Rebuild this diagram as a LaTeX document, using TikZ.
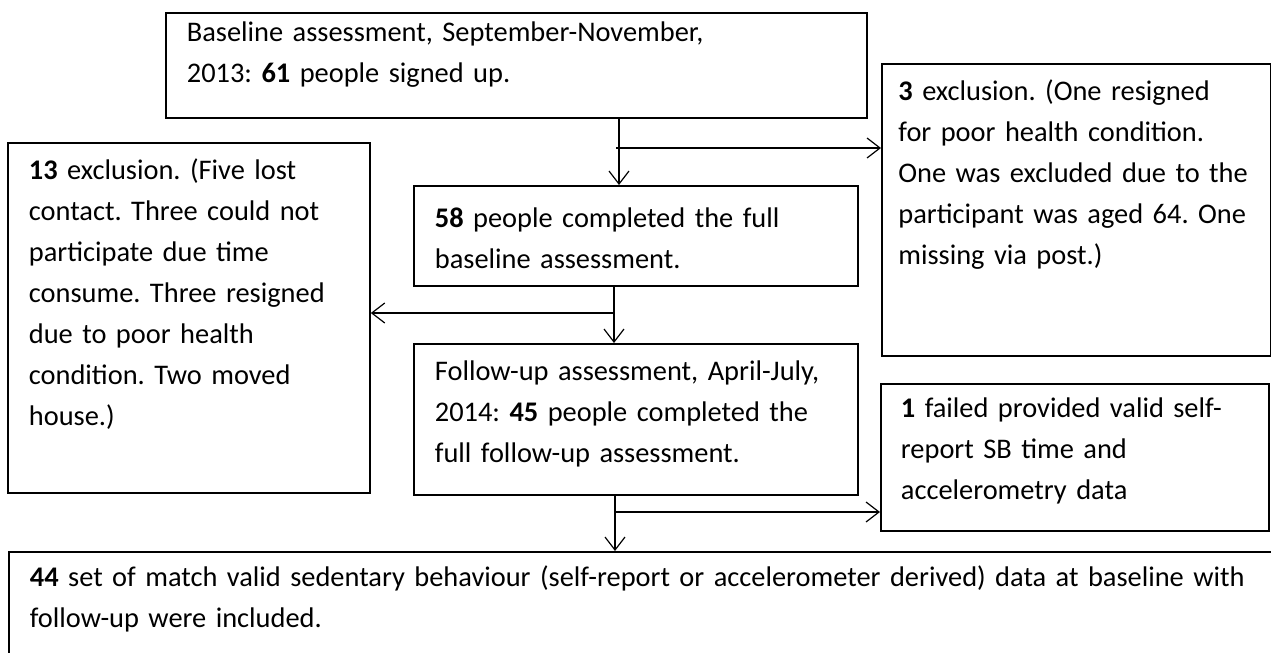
\documentclass[tikz,border=0pt]{standalone}
\usepackage{fontspec}
\setmainfont{Carlito}
\usepackage{tikz}
\usetikzlibrary{arrows.meta,positioning,calc}

\begin{document}
\frenchspacing
\begin{tikzpicture}[
    x=0.5pt, y=-0.5pt,
    every node/.style={font=\fontsize{14.2}{20.5}\selectfont},
    box/.style={rectangle, draw, line width=0.9pt, anchor=north west, align=left, inner xsep=10.5pt, inner ysep=0pt},
    arrow/.style={-{Straight Barb[length=6.5pt,width=10pt]}, line width=0.6pt}
]
\useasboundingbox (0,0) rectangle (1271,653);
\clip (0,0) rectangle (1271,653);

% Baseline
\node[box, text width=329.5pt, text height=14.5pt, text depth=38pt] (base) at (165,12)
    {Baseline assessment, September-November,\\ 2013: \textbf{61} people signed up.};
\node[box, inner xsep=8.25pt, text width=178pt, text height=18.5pt, text depth=127.5pt] (excl3) at (881,63)
    {\textbf{3} exclusion. (One resigned\\ for poor health condition.\\ One was excluded due to the\\ participant was aged 64. One\\ missing via post.)};
\node[box, text width=201pt, text height=21pt, text depth=29pt] (full58) at (413,185)
    {\textbf{58} people completed the full\\ baseline assessment.};

% Follow-up
\node[box, text width=160pt, text height=18.5pt, text depth=156.5pt] (excl13) at (7,142)
    {\textbf{13} exclusion. (Five lost\\ contact. Three could not\\ participate due time\\ consume. Three resigned\\ due to poor health\\ condition. Two moved\\ house.)};
\node[box, text width=201pt, text height=18.5pt, text depth=57pt] (followup) at (413,343)
    {Follow-up assessment, April-July,\\ 2014: \textbf{45} people completed the\\ full follow-up assessment.};
\node[box, inner xsep=10pt, text width=174pt, text height=17pt, text depth=56.5pt] (fail1) at (880,383)
    {\textbf{1} failed provided valid self-\\ report SB time and\\ accelerometry data};

% Final sample
\node[box, text width=650pt, text height=17.5pt, text depth=70pt] (final44) at (8,551)
    {\textbf{44} set of match valid sedentary behaviour (self-report or accelerometer derived) data at baseline with\\ follow-up were included.};

% Junctions
\coordinate (j1) at (619,148);
\coordinate (j2) at (614,313);
\coordinate (j3) at (615,512);

% Arrows
\draw[arrow] (j1 |- base.south) -- (j1 |- full58.north);
\draw[arrow] ([xshift=-1.5pt]j1) -- (j1 -| excl3.west);
\draw[arrow] (j2 |- full58.south) -- (j2 |- followup.north);
\draw[arrow] (j2) -- (j2 -| excl13.east);
\draw[arrow] (j3 |- followup.south) -- (j3 |- final44.north);
\draw[arrow] (j3) -- (j3 -| fail1.west);

\end{tikzpicture}
\end{document}
